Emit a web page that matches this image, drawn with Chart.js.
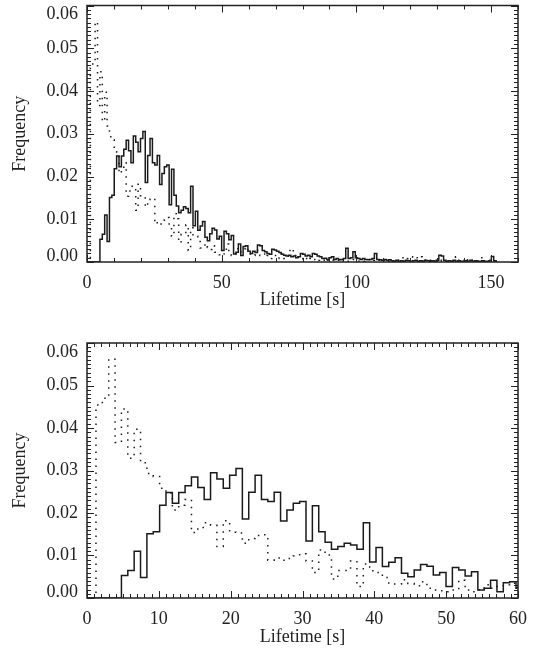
<!DOCTYPE html>
<html>
<head>
<meta charset="utf-8">
<script src="https://cdn.jsdelivr.net/npm/chart.js@4.4.1/dist/chart.umd.min.js"></script>
<style>
  html, body { margin: 0; padding: 0; background: #fff; }
  #wrap { position: relative; width: 544px; height: 658px; overflow: hidden; }
  canvas { position: absolute; left: 0; }
</style>
</head>
<body>
<div id="wrap">
  <canvas id="topChart" width="544" height="322" style="top:-10px"></canvas>
  <canvas id="bottomChart" width="544" height="338" style="top:320px"></canvas>
</div>
<script>
// histogram bins: left edge of first bin and bin width, in seconds
const FIRST_EDGE = 1.25;
const BIN_WIDTH = 0.886;

// solid histogram, one value per bin
const solidFreq = [
  0, 0, 0, 0, 0.0053, 0.0065,
  0.0110, 0.0048, 0.0151, 0.0156, 0.0218, 0.0248,
  0.0223, 0.0248, 0.0264, 0.0285, 0.0260, 0.0232,
  0.0295, 0.0280, 0.0258, 0.0289, 0.0305, 0.0186,
  0.0249, 0.0289, 0.0232, 0.0227, 0.0249, 0.0181,
  0.0207, 0.0223, 0.0227, 0.0134, 0.0217, 0.0156,
  0.0131, 0.0115, 0.0121, 0.0129, 0.0125, 0.0115,
  0.0177, 0.0085, 0.0119, 0.0074, 0.0084, 0.0095,
  0.0058, 0.0050, 0.0066, 0.0079, 0.0075, 0.0054,
  0.0060, 0.0027, 0.0072, 0.0066, 0.0052, 0.0062,
  0.0019, 0.0023, 0.0042, 0.0015, 0.0036, 0.0038,
  0.0025, 0.0020, 0.0025, 0.0022, 0.0040, 0.0038, 0.0027, 0.0024, 0.0020, 0.0018,
  0.0030, 0.0028, 0.0025, 0.0022, 0.0018, 0.0016, 0.0014, 0.0016, 0.0012, 0.0014,
  0.0010, 0.0012, 0.0020, 0.0018, 0.0014, 0.0016, 0.0012, 0.0020, 0.0018, 0.0014,
  0.0012, 0.0008, 0.0009, 0.0006, 0.0010, 0.0012, 0.0006, 0.0008, 0.0005, 0.0006,
  0.0008, 0.0032, 0.0008, 0.0010, 0.0024, 0.0010, 0.0008, 0.0006, 0.0008, 0.0006,
  0.0005, 0.0006, 0.0008, 0.0020, 0.0006, 0.0005, 0.0004, 0.0006, 0.0004, 0.0005,
  0.0003, 0.0002, 0.0004, 0.0002, 0.0003, 0.0002, 0.0004, 0.0003, 0.0002, 0.0003,
  0.0004, 0.0002, 0.0003, 0.0002, 0.0004, 0.0003, 0.0002, 0.0003, 0.0002, 0.0004,
  0.0016, 0.0014, 0.0004, 0.0002, 0.0003, 0.0002, 0.0004, 0.0002, 0.0003, 0.0002,
  0.0002, 0.0003, 0.0002, 0.0004, 0.0002, 0.0003, 0.0002, 0.0002, 0.0003, 0.0002,
  0.0002, 0.0003, 0.0013, 0.0003
];

// dotted histogram, one value per bin
const dottedFreq = [
  0.0454, 0.0470, 0.0562, 0.0366, 0.0445, 0.0329,
  0.0397, 0.0318, 0.0293, 0.0286, 0.0258, 0.0247,
  0.0207, 0.0218, 0.0232, 0.0154, 0.0166, 0.0177,
  0.0171, 0.0121, 0.0182, 0.0155, 0.0153, 0.0129,
  0.0140, 0.0147, 0.0149, 0.0089, 0.0094, 0.0089,
  0.0093, 0.0099, 0.0104, 0.0087, 0.0060, 0.0113,
  0.0101, 0.0045, 0.0065, 0.0065, 0.0087, 0.0027,
  0.0080, 0.0064, 0.0060, 0.0048, 0.0033, 0.0033,
  0.0043, 0.0034, 0.0029, 0.0038, 0.0023, 0.0019,
  0.0017, 0.0015, 0.0019, 0.0042, 0.0019, 0.0015,
  0.0019, 0.0031, 0.0023, 0.0027, 0.0031, 0.0035,
  0.0023, 0.0019, 0.0015, 0.0019, 0.0027, 0.0015, 0.0019, 0.0012, 0.0015, 0.0008,
  0.0012, 0.0015, 0.0008, 0.0012, 0.0019, 0.0008, 0.0012, 0.0027, 0.0031, 0.0015,
  0.0008, 0.0012, 0.0008, 0.0004, 0.0008, 0.0012, 0.0008, 0.0004, 0.0008, 0.0004,
  0.0006, 0.0004, 0.0008, 0.0004, 0.0006, 0.0004, 0.0002, 0.0004, 0.0006, 0.0004,
  0.0002, 0.0004, 0.0002, 0.0004, 0.0006, 0.0004, 0.0002, 0.0004, 0.0002, 0.0004,
  0.0006, 0.0008, 0.0004, 0.0006, 0.0004, 0.0002, 0.0004, 0.0002, 0.0004, 0.0002,
  0.0004, 0.0002, 0.0006, 0.0004, 0.0010, 0.0012, 0.0008, 0.0010, 0.0012, 0.0008,
  0.0010, 0.0008, 0.0012, 0.0006, 0.0004, 0.0002, 0.0004, 0.0002, 0.0002, 0.0004,
  0.0002, 0.0004, 0.0002, 0.0002, 0.0004, 0.0002, 0.0006, 0.0012, 0.0004, 0.0002,
  0.0004, 0.0009, 0.0002, 0.0002, 0.0004, 0.0002, 0.0002, 0.0004, 0.0012, 0.0002,
  0.0002, 0.0004, 0.0002, 0.0002, 0.0002
];

// axis ranges for the two panels
const topXRange = [0, 160];
const bottomXRange = [0, 60];
const yRange = [0, 0.06];

const FONT = { family: "'Liberation Serif', 'DejaVu Serif', serif", size: 18 };
const INK = '#222';

function histPoints(values) {
  const pts = [{ x: 0, y: 0 }];
  values.forEach((v, i) => pts.push({ x: FIRST_EDGE + i * BIN_WIDTH, y: v }));
  pts.push({ x: FIRST_EDGE + values.length * BIN_WIDTH, y: 0 });
  return pts;
}

// box frame with inward major/minor ticks on all four sides,
// plus y labels kept inside the frame height like the original plot
const idlFrame = {
  id: 'idlFrame',
  afterDatasetsDraw(chart, args, o) {
    const { ctx, chartArea: a, scales: { x, y } } = chart;
    ctx.save();
    ctx.strokeStyle = INK;
    ctx.lineWidth = 1;
    ctx.beginPath();
    const nx = Math.round((x.max - x.min) / o.xMinor);
    for (let i = 0; i <= nx; i++) {
      const px = Math.round(x.getPixelForValue(x.min + i * o.xMinor)) + 0.5;
      const len = i % o.xEvery === 0 ? 7 : 4;
      ctx.moveTo(px, a.bottom); ctx.lineTo(px, a.bottom - len);
      ctx.moveTo(px, a.top); ctx.lineTo(px, a.top + len);
    }
    const ny = Math.round((y.max - y.min) / o.yMinor);
    for (let i = 0; i <= ny; i++) {
      const py = Math.round(y.getPixelForValue(y.min + i * o.yMinor)) + 0.5;
      const len = i % o.yEvery === 0 ? 7 : 4;
      ctx.moveTo(a.left, py); ctx.lineTo(a.left + len, py);
      ctx.moveTo(a.right, py); ctx.lineTo(a.right - len, py);
    }
    ctx.stroke();
    ctx.lineWidth = 1.5;
    ctx.strokeRect(a.left, a.top, a.right - a.left, a.bottom - a.top);

    ctx.fillStyle = INK;
    ctx.font = `${FONT.size}px ${FONT.family}`;
    ctx.textAlign = 'right';
    ctx.textBaseline = 'middle';
    y.ticks.forEach(t => {
      const py = Math.min(Math.max(y.getPixelForValue(t.value), a.top + 9), a.bottom - 6);
      ctx.fillText(t.value.toFixed(2), a.left - 9, py);
    });
    ctx.restore();
  }
};

function makePanel(id, xRange, xStep, frameOpts, pad, xHeight, titlePad) {
  return new Chart(document.getElementById(id), {
    type: 'line',
    data: {
      datasets: [
        { data: histPoints(solidFreq), borderColor: '#1a1a1a', borderWidth: 1.5, stepped: true, pointRadius: 0, fill: false },
        { data: histPoints(dottedFreq), borderColor: '#1a1a1a', borderWidth: 1.5, borderDash: [1.5, 5.5], stepped: true, pointRadius: 0, fill: false }
      ]
    },
    options: {
      responsive: false,
      animation: false,
      devicePixelRatio: 1,
      layout: { padding: { top: pad, right: 26, left: 0, bottom: 0 } },
      plugins: { legend: { display: false }, tooltip: { enabled: false }, idlFrame: frameOpts },
      scales: {
        x: {
          type: 'linear', min: xRange[0], max: xRange[1],
          grid: { display: false, drawTicks: false },
          border: { display: false },
          ticks: { stepSize: xStep, includeBounds: false, color: INK, font: FONT, padding: 10, maxRotation: 0 },
          title: { display: true, text: 'Lifetime [s]', color: INK, font: FONT, padding: { top: 0, bottom: titlePad } },
          afterFit: s => { s.height = xHeight; }
        },
        y: {
          min: yRange[0], max: yRange[1],
          grid: { display: false, drawTicks: false },
          border: { display: false },
          ticks: { stepSize: 0.01, display: false },
          title: { display: true, text: 'Frequency', color: INK, font: FONT, padding: { top: 9, bottom: 0 } },
          afterFit: s => { s.width = 87; }
        }
      }
    },
    plugins: [idlFrame]
  });
}

makePanel('topChart', topXRange, 50, { xMinor: 10, xEvery: 5, yMinor: 0.001, yEvery: 10 }, 15.5, 50, 1);
makePanel('bottomChart', bottomXRange, 10, { xMinor: 1, xEvery: 10, yMinor: 0.001, yEvery: 10 }, 23, 60, 10);
</script>
</body>
</html>
